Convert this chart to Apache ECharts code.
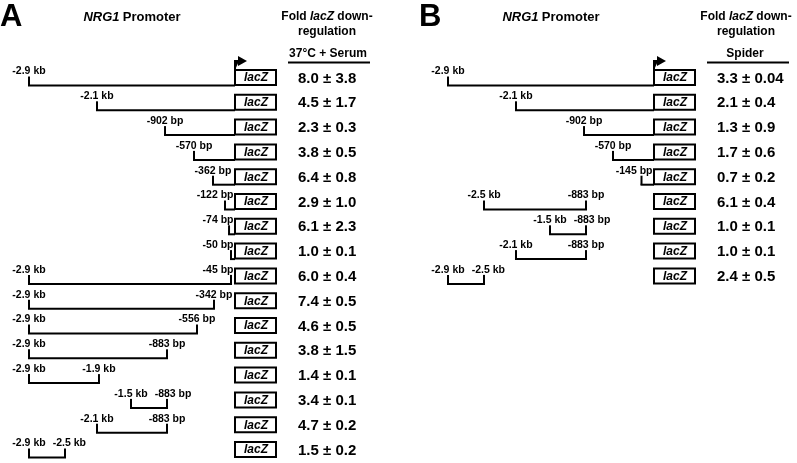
<!DOCTYPE html>
<html>
<head>
<meta charset="utf-8">
<script src="https://cdn.jsdelivr.net/npm/echarts@6/dist/echarts.min.js"></script>
<style>
  html, body { margin: 0; background: #fff; }
  #chart { width: 797px; height: 463px; }
</style>
</head>
<body>
<div id="chart"></div>
<script>
// positions are read off the (not-to-scale) schematic, in bp upstream of lacZ (0)
// panel A: 37°C + Serum
const startA = [-2900, -1943, -985, -577, -310, -141, -84, -56, -2900, -2900, -2900, -2900, -2900, -1464, -1943, -2900];
const endA = [0, 0, 0, 0, 0, 0, 0, 0, -56, -296, -535, -957, -1915, -957, -957, -2393];
const startLabelA = ['-2.9 kb', '-2.1 kb', '-902 bp', '-570 bp', '-362 bp', '-122 bp', '-74 bp', '-50 bp',
  '-2.9 kb', '-2.9 kb', '-2.9 kb', '-2.9 kb', '-2.9 kb', '-1.5 kb', '-2.1 kb', '-2.9 kb'];
const endLabelA = ['', '', '', '', '', '', '', '', '-45 bp', '-342 bp', '-556 bp', '-883 bp', '-1.9 kb', '-883 bp', '-883 bp', '-2.5 kb'];
const fusedA = 8; // first rows run into lacZ
const meanA = [8.0, 4.5, 2.3, 3.8, 6.4, 2.9, 6.1, 1.0, 6.0, 7.4, 4.6, 3.8, 1.4, 3.4, 4.7, 1.5];
const sdA = [3.8, 1.7, 0.3, 0.5, 0.8, 1.0, 2.3, 0.1, 0.4, 0.5, 0.5, 1.5, 0.1, 0.1, 0.2, 0.2];

// panel B: Spider
const startB = [-2900, -1943, -985, -577, -176, -2393, -1464, -1943, -2900];
const endB = [0, 0, 0, 0, 0, -957, -957, -957, -2393];
const startLabelB = ['-2.9 kb', '-2.1 kb', '-902 bp', '-570 bp', '-145 bp', '-2.5 kb', '-1.5 kb', '-2.1 kb', '-2.9 kb'];
const endLabelB = ['', '', '', '', '', '-883 bp', '-883 bp', '-883 bp', '-2.5 kb'];
const fusedB = 5;
const meanB = [3.3, 2.1, 1.3, 1.7, 0.7, 6.1, 1.0, 1.0, 2.4];
const sdB = [0.04, 0.4, 0.9, 0.6, 0.2, 0.4, 0.1, 0.1, 0.5];

const FONT = '"Liberation Sans", Arial, sans-serif';
const labelFont = 'bold 10.5px ' + FONT;
const measure = document.createElement('canvas').getContext('2d');
measure.font = labelFont;

function fmt(v) {
  return v < 0.1 ? v.toFixed(2) : v.toFixed(1);
}

function makeSeries(idx, start, end, sLab, eLab, fused, mean, sd) {
  const data = start.map((s, i) => [i, s, end[i]]);
  return {
    type: 'custom',
    xAxisIndex: idx,
    yAxisIndex: idx,
    clip: false,
    silent: true,
    data: data,
    renderItem: function (params, api) {
      const i = params.dataIndex;
      const row = api.value(0);
      const s = api.coord([api.value(1), row]);
      const e = api.coord([api.value(2), row]);
      const x0 = api.coord([0, row])[0];
      const c = s[1];
      const ly = c + 8;
      const line = { stroke: '#000', lineWidth: 2 };
      const kids = [];
      const joined = i < fused;

      kids.push({ type: 'line', shape: { x1: s[0] - 1, y1: ly, x2: joined ? x0 : e[0] + 1, y2: ly }, style: line });
      kids.push({ type: 'line', shape: { x1: s[0], y1: c - 1, x2: s[0], y2: ly }, style: line });
      if (!joined) {
        kids.push({ type: 'line', shape: { x1: e[0], y1: c - 1, x2: e[0], y2: ly }, style: line });
      }

      // labels centred over their tick, kept clear of the box and of each other
      let leftEdge = -Infinity;
      function label(txt, x) {
        if (!txt) return;
        const w = measure.measureText(txt).width;
        let right = Math.min(x + w / 2, x0 - 1.5);
        if (right - w < leftEdge + 7) right = leftEdge + 7 + w;
        leftEdge = right;
        kids.push({
          type: 'text',
          style: { text: txt, x: right, y: c - 6, align: 'right', verticalAlign: 'middle', font: labelFont, fill: '#000' }
        });
      }
      label(sLab[i], s[0]);
      if (!joined) label(eLab[i], e[0]);

      // lacZ box
      kids.push({
        type: 'rect',
        shape: { x: x0, y: c - 7.5, width: 41, height: 15 },
        style: { fill: '#fff', stroke: '#000', lineWidth: 2 }
      });
      kids.push({
        type: 'text',
        style: { text: 'lacZ', x: x0 + 21, y: c + 0.5, align: 'center', verticalAlign: 'middle',
          font: 'italic bold 12px ' + FONT, fill: '#000' }
      });

      // transcription start arrow
      if (i === 0) {
        kids.push({ type: 'polyline', shape: { points: [[x0, c - 7.5], [x0, c - 16.5], [x0 + 4, c - 16.5]] }, style: line });
        kids.push({
          type: 'polygon',
          shape: { points: [[x0 + 3, c - 21.5], [x0 + 12, c - 16.5], [x0 + 3, c - 11.5]] },
          style: { fill: '#000' }
        });
      }

      kids.push({
        type: 'text',
        style: { text: mean[i].toFixed(1) + ' \u00b1 ' + fmt(sd[i]), x: x0 + 63, y: c + 1, align: 'left',
          verticalAlign: 'middle', font: 'bold 15px ' + FONT, fill: '#000' }
      });

      return { type: 'group', children: kids };
    }
  };
}

function headers(dx, letter, condition, condX) {
  const t = (txt, x, y, size) => ({
    type: 'text',
    style: { text: txt, x: x + dx, y: y, align: 'center', verticalAlign: 'middle', font: 'bold ' + size + 'px ' + FONT, fill: '#000' }
  });
  return [
    { type: 'text', style: { text: letter, x: dx, y: 17, align: 'left', verticalAlign: 'middle', font: 'bold 31px ' + FONT, fill: '#000' } },
    {
      type: 'text',
      style: {
        text: '{i|NRG1} {b|Promoter}', x: 132 + dx, y: 17, align: 'center', verticalAlign: 'middle',
        rich: {
          i: { font: 'italic bold 13px ' + FONT, fill: '#000' },
          b: { font: 'bold 13px ' + FONT, fill: '#000' }
        }
      }
    },
    {
      type: 'text',
      style: {
        text: '{b|Fold }{i|lacZ}{b| down-}', x: 327 + dx, y: 17, align: 'center', verticalAlign: 'middle',
        rich: {
          i: { font: 'italic bold 12px ' + FONT, fill: '#000' },
          b: { font: 'bold 12px ' + FONT, fill: '#000' }
        }
      }
    },
    t('regulation', 327, 32, 12),
    t(condition, condX, 54, 12),
    { type: 'line', shape: { x1: 288 + dx, y1: 62.5, x2: 370 + dx, y2: 62.5 }, style: { stroke: '#000', lineWidth: 2 } }
  ];
}

const DX = 419;
const yAxisCommon = { type: 'value', inverse: true, min: 0, max: 15, show: false };
const xAxisCommon = { type: 'value', min: -2900, max: 0, show: false };

const option = {
  animation: false,
  grid: [
    { left: 29, top: 77.5, width: 206, height: 372 },
    { left: 29 + DX, top: 77.5, width: 206, height: 372 }
  ],
  xAxis: [Object.assign({ gridIndex: 0 }, xAxisCommon), Object.assign({ gridIndex: 1 }, xAxisCommon)],
  yAxis: [Object.assign({ gridIndex: 0 }, yAxisCommon), Object.assign({ gridIndex: 1 }, yAxisCommon)],
  graphic: headers(0, 'A', '37\u00b0C + Serum', 328).concat(headers(DX, 'B', 'Spider', 326)),
  series: [
    makeSeries(0, startA, endA, startLabelA, endLabelA, fusedA, meanA, sdA),
    makeSeries(1, startB, endB, startLabelB, endLabelB, fusedB, meanB, sdB)
  ]
};

const myChart = echarts.init(document.getElementById('chart'));
myChart.setOption(option);
</script>
</body>
</html>
